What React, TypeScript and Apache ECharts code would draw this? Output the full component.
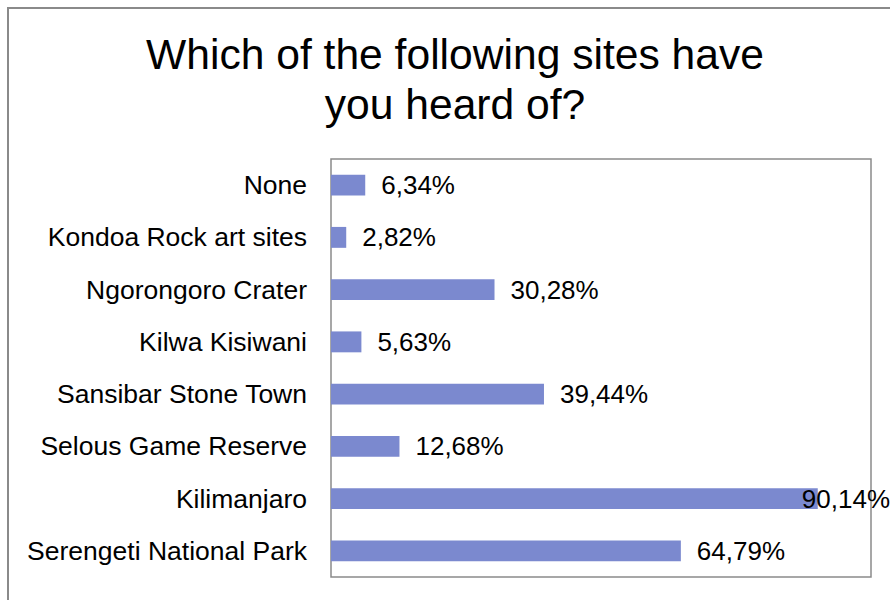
import React, { useEffect, useRef } from "react";
import * as echarts from "echarts";

const titleText = "Which of the following sites have\nyou heard of?";
const categories = [
  "None",
  "Kondoa Rock art sites",
  "Ngorongoro Crater",
  "Kilwa Kisiwani",
  "Sansibar Stone Town",
  "Selous Game Reserve",
  "Kilimanjaro",
  "Serengeti National Park",
];
const values = [6.34, 2.82, 30.28, 5.63, 39.44, 12.68, 90.14, 64.79];
const axisMin = 0;
const axisMax = 100;

const FONT = "'Liberation Sans', Arial, sans-serif";

export default function App() {
  const ref = useRef<HTMLDivElement>(null);
  useEffect(() => {
    document.body.style.margin = "0";
    if (!ref.current) return;
    const chart = echarts.init(ref.current, null, { renderer: "svg" });
    const W = 890;
    chart.setOption({
      animation: false,
      backgroundColor: "#ffffff",
      graphic: [
        {
          type: "rect",
          shape: { x: 8, y: 8, width: 1000, height: 1000 },
          style: { fill: "none", stroke: "#8a8a8a", lineWidth: 2 },
          silent: true,
        },
        {
          type: "text",
          x: 455,
          y: 29,
          style: {
            text: titleText,
            fontSize: 42.6,
            fontFamily: FONT,
            lineHeight: 50,
            fill: "#000",
            align: "center",
            verticalAlign: "top",
          },
        },
      ],
      grid: {
        left: 331,
        right: 19,
        top: 159,
        bottom: 23,
        show: true,
        borderColor: "#8a8a8a",
        borderWidth: 1.5,
        backgroundColor: "transparent",
      },
      xAxis: {
        type: "value",
        min: axisMin,
        max: axisMax,
        show: false,
      },
      yAxis: {
        type: "category",
        data: categories,
        inverse: true,
        axisLine: { show: false },
        axisTick: { show: false },
        splitLine: { show: false },
        axisLabel: {
          color: "#000",
          fontSize: 26.5,
          fontFamily: FONT,
          margin: 24,
        },
      },
      series: [
        {
          type: "bar",
          data: values,
          barCategoryGap: "60%",
          itemStyle: { color: "#7b89cf" },
          label: {
            show: true,
            position: "right",
            distance: 16,
            color: "#000",
            fontSize: 26,
            fontFamily: FONT,
            formatter: (p: any) => p.value.toFixed(2).replace(".", ",") + "%",
          },
          labelLayout: (params: any) => {
            const r = params.labelRect;
            if (r.x + r.width > W) {
              return { dx: W - (r.x + r.width) };
            }
            return {};
          },
        },
      ],
    });
    return () => chart.dispose();
  }, []);
  return <div ref={ref} style={{ width: 890, height: 600 }} />;
}
